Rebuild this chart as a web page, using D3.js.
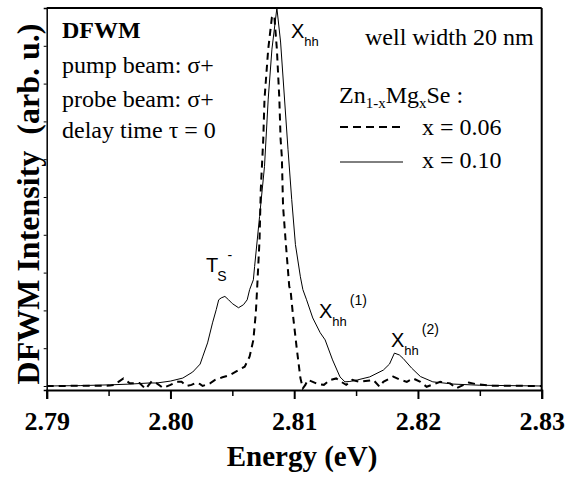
<!DOCTYPE html>
<html><head><meta charset="utf-8">
<script src="https://cdn.jsdelivr.net/npm/d3@7"></script>
<style>
body{margin:0;background:#fff;}
svg{display:block;}
text{font-family:"Liberation Serif","Times New Roman",serif;fill:#000;}
.sans{font-family:"Liberation Sans",Arial,sans-serif;}
</style></head>
<body>
<svg id="chart" width="565" height="477"></svg>
<script>
// Data (energy in eV, intensity in arb. u.)
const solidEnergy = [2.7900,2.7927,2.7951,2.7967,2.7983,2.7989,2.8000,2.8010,2.8018,2.8024,2.8026,2.8030,2.8034,2.8037,2.8039,2.8041,2.8044,2.8047,2.8050,2.8055,2.8059,2.8062,2.8064,2.8067,2.8068,2.8072,2.8076,2.8079,2.8082,2.8086,2.8089,2.8095,2.8098,2.8101,2.8105,2.8107,2.8110,2.8115,2.8121,2.8125,2.8131,2.8137,2.8141,2.8145,2.8151,2.8161,2.8172,2.8177,2.8181,2.8185,2.8188,2.8195,2.8202,2.8212,2.8229,2.8250,2.8274,2.8300];
const solidIntensity = [0.000,0.001,0.003,0.005,0.008,0.008,0.013,0.021,0.037,0.058,0.077,0.114,0.167,0.202,0.228,0.233,0.237,0.228,0.218,0.207,0.215,0.228,0.255,0.281,0.316,0.448,0.581,0.759,0.891,1.000,0.910,0.626,0.493,0.374,0.289,0.255,0.228,0.180,0.141,0.122,0.069,0.024,0.011,0.012,0.016,0.024,0.042,0.058,0.087,0.082,0.073,0.047,0.025,0.011,0.005,0.002,0.001,0.000];
const dashEnergy = [2.7900,2.7951,2.7955,2.7958,2.7962,2.7965,2.7967,2.7975,2.7980,2.7985,2.7989,2.7994,2.8000,2.8005,2.8009,2.8013,2.8017,2.8021,2.8024,2.8026,2.8032,2.8036,2.8042,2.8048,2.8056,2.8060,2.8064,2.8067,2.8069,2.8070,2.8072,2.8073,2.8075,2.8076,2.8079,2.8082,2.8083,2.8084,2.8086,2.8088,2.8089,2.8090,2.8091,2.8093,2.8096,2.8097,2.8099,2.8102,2.8105,2.8107,2.8109,2.8111,2.8115,2.8119,2.8124,2.8129,2.8134,2.8138,2.8142,2.8147,2.8153,2.8164,2.8169,2.8172,2.8180,2.8186,2.8191,2.8196,2.8202,2.8207,2.8218,2.8226,2.8231,2.8241,2.8247,2.8258,2.8300];
const dashIntensity = [0.000,0.001,0.003,0.011,0.020,0.013,0.007,0.008,-0.008,0.013,0.007,-0.005,0.003,0.011,0.011,0.000,0.003,0.009,0.005,0.000,0.007,0.016,0.023,0.029,0.044,0.051,0.078,0.122,0.194,0.255,0.387,0.520,0.653,0.759,0.891,0.976,0.981,0.976,0.891,0.759,0.653,0.607,0.475,0.387,0.263,0.255,0.188,0.101,0.021,-0.006,0.003,0.016,0.011,0.005,0.003,0.016,0.020,0.011,0.003,0.016,0.011,0.016,-0.002,0.011,0.025,0.016,0.011,0.020,0.011,-0.002,0.011,0.007,-0.006,0.009,0.005,0.001,0.000];
const xMajorTicks = [2.79,2.80,2.81,2.82,2.83];
const xMinorTicks = [2.795,2.805,2.815,2.825];
const xTickLabels = ["2.79","2.80","2.81","2.82","2.83"];
const yTicks = [0,0.1,0.2,0.3,0.4,0.5,0.6,0.7,0.8,0.9];

const svg = d3.select("#chart");
const L = 46.7, R = 541.7, T = 8, B = 390;
const x = d3.scaleLinear().domain([2.79, 2.83]).range([L, R]);
const y = d3.scaleLinear().domain([-0.0106, 1.0]).range([B, T]);

svg.append("defs").append("clipPath").attr("id","clip")
  .append("rect").attr("x",L).attr("y",T-1).attr("width",R-L).attr("height",B-T+1);

const line = d3.line().x(d=>x(d[0])).y(d=>y(d[1]));
const solid = solidEnergy.map((e,i)=>[e,solidIntensity[i]]);
const dash = dashEnergy.map((e,i)=>[e,dashIntensity[i]]);

const g = svg.append("g").attr("clip-path","url(#clip)");
g.append("path").datum(dash).attr("d",line).attr("fill","none")
  .attr("stroke","#000").attr("stroke-width",2).attr("stroke-dasharray","7,5");
g.append("path").datum(solid).attr("d",line).attr("fill","none")
  .attr("stroke","#000").attr("stroke-width",1);

// x axis (bottom)
const xAxis = svg.append("g").attr("transform",`translate(0,${B})`)
  .call(d3.axisBottom(x).tickValues(xMajorTicks).tickSize(9).tickFormat((d,i)=>xTickLabels[i]));
xAxis.select(".domain").attr("stroke-width",2);
xAxis.selectAll(".tick line").attr("stroke-width",2);
xAxis.selectAll(".tick text").attr("font-family","Liberation Serif").attr("font-weight","bold")
  .attr("font-size",26).attr("dy",0).attr("y",40);
const xMinor = svg.append("g").attr("transform",`translate(0,${B})`)
  .call(d3.axisBottom(x).tickValues(xMinorTicks).tickSize(6).tickFormat(""));
xMinor.select(".domain").remove();
xMinor.selectAll(".tick line").attr("stroke-width",1.5);

// y axis (left)
const yAxis = svg.append("g").attr("transform",`translate(${L},0)`)
  .call(d3.axisLeft(y).tickValues(yTicks).tickSize(3).tickFormat(""));
yAxis.select(".domain").attr("stroke-width",1.5);

// top and right borders
svg.append("line").attr("x1",L).attr("x2",R).attr("y1",T).attr("y2",T).attr("stroke","#000").attr("stroke-width",2);
svg.append("line").attr("x1",R).attr("x2",R).attr("y1",T).attr("y2",B).attr("stroke","#000").attr("stroke-width",2);

// axis titles
svg.append("text").attr("x",302).attr("y",466).attr("text-anchor","middle")
  .attr("font-weight","bold").attr("font-size",29).text("Energy (eV)");
svg.append("text").attr("transform","translate(39,204) rotate(-90)").attr("text-anchor","middle")
  .attr("font-weight","bold").attr("font-size",32).attr("xml:space","preserve").text("DFWM Intensity  (arb. u.)");

// left annotation block
svg.append("text").attr("x",62).attr("y",38).attr("font-weight","bold").attr("font-size",24).text("DFWM");
svg.append("text").attr("x",62).attr("y",73).attr("font-size",24).text("pump beam: σ+");
svg.append("text").attr("x",62).attr("y",107).attr("font-size",24).text("probe beam: σ+");
svg.append("text").attr("x",62).attr("y",138).attr("font-size",24).text("delay time τ = 0");

// right annotation
svg.append("text").attr("x",365).attr("y",45).attr("font-size",24).text("well width 20 nm");
const zn = svg.append("text").attr("x",339).attr("y",103).attr("font-size",24);
zn.append("tspan").text("Zn");
zn.append("tspan").attr("font-size",15).attr("dy",5).text("1-x");
zn.append("tspan").attr("dy",-5).text("Mg");
zn.append("tspan").attr("font-size",15).attr("dy",5).text("x");
zn.append("tspan").attr("dy",-5).text("Se :");
svg.append("line").attr("x1",340).attr("x2",402).attr("y1",127).attr("y2",127)
  .attr("stroke","#000").attr("stroke-width",2).attr("stroke-dasharray","8,5");
svg.append("text").attr("x",422).attr("y",135).attr("font-size",24).text("x = 0.06");
svg.append("line").attr("x1",340).attr("x2",403).attr("y1",162).attr("y2",162)
  .attr("stroke","#000").attr("stroke-width",1);
svg.append("text").attr("x",422).attr("y",168).attr("font-size",24).text("x = 0.10");

// peak labels (sans)
function xhh(px, py, sup){
  const t = svg.append("text").attr("class","sans").attr("x",px).attr("y",py).attr("font-size",20);
  t.append("tspan").text("X");
  t.append("tspan").attr("font-size",13).attr("dy",8).text("hh");
  if (sup) t.append("tspan").attr("font-size",14).attr("dy",-21).attr("dx",3).text(sup);
}
xhh(291, 38, null);
xhh(319, 318, "(1)");
xhh(391, 347, "(2)");
const ts = svg.append("text").attr("class","sans").attr("x",206).attr("y",272).attr("font-size",20);
ts.append("tspan").text("T");
ts.append("tspan").attr("font-size",14).attr("dy",9).attr("dx",-1).text("S");
ts.append("tspan").attr("font-size",14).attr("dy",-21).attr("dx",1).text("-");
</script>
</body></html>
